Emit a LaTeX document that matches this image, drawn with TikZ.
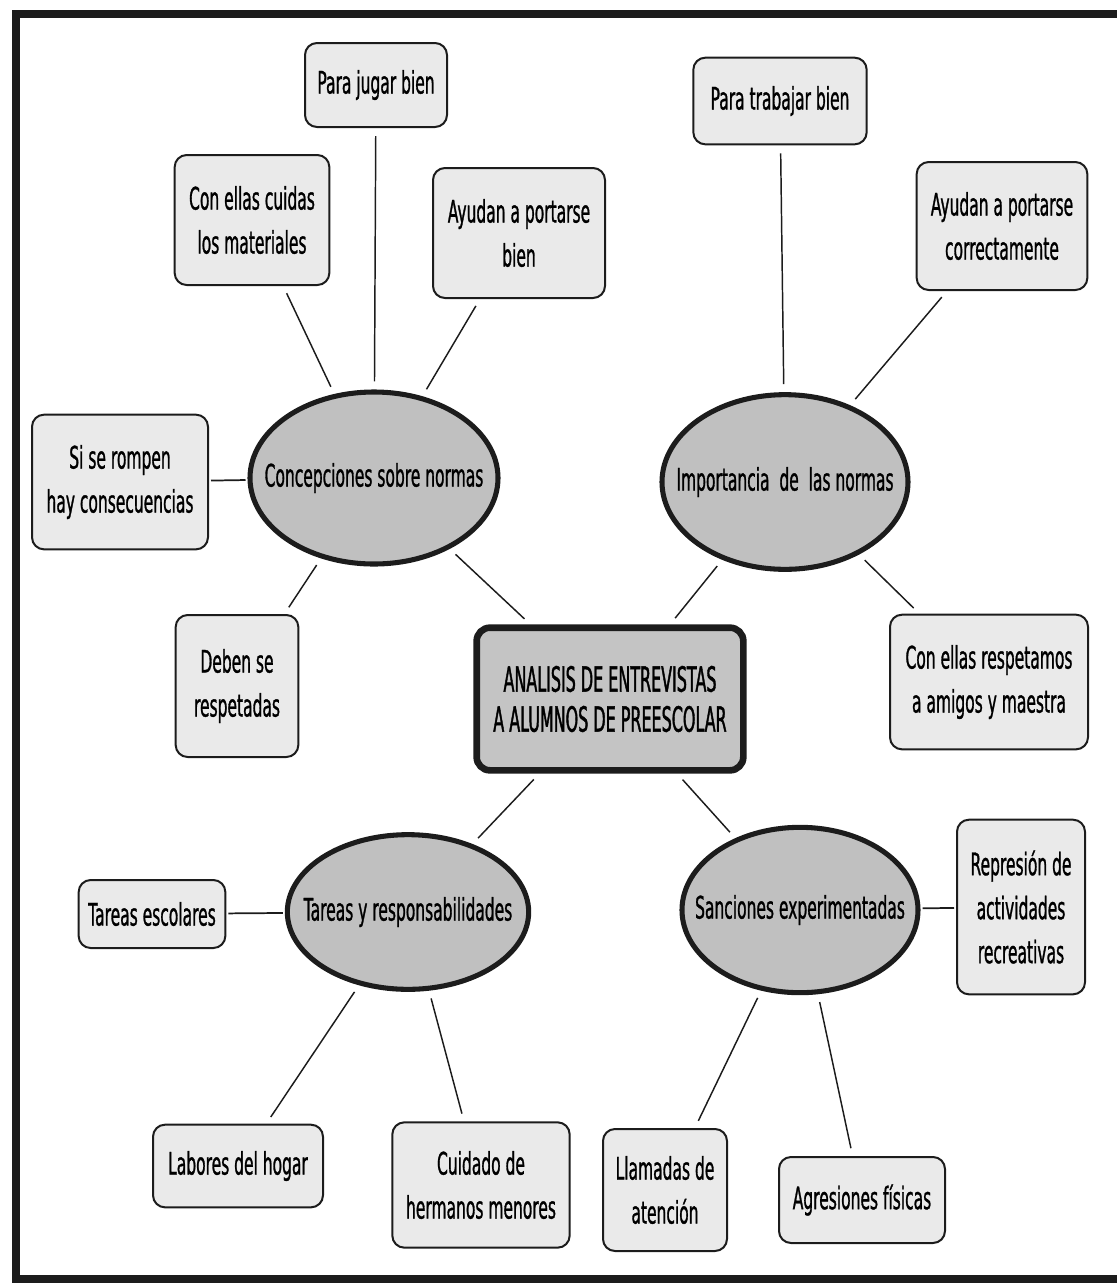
\documentclass[tikz,border=0pt]{standalone}
\usepackage{fontspec}
\setmainfont[FakeStretch=0.5, RawFeature={embolden=0.9}]{DejaVu Sans}
\newfontfamily\hubfont[FakeStretch=0.46, RawFeature={embolden=1.1}]{DejaVu Sans}
\usetikzlibrary{shapes.geometric}
\definecolor{mapink}{RGB}{28,28,28}
\definecolor{mapleaf}{RGB}{234,234,234}
\definecolor{mapoval}{RGB}{192,192,192}
\definecolor{maphub}{RGB}{196,196,196}
\tikzset{
  leaf/.style={draw=mapink, fill=mapleaf, rounded corners=9pt, line width=1.5pt,
    align=center, inner sep=0pt, font=\fontsize{23.25}{33}\selectfont},
  oval/.style={ellipse, draw=mapink, fill=mapoval, line width=3.8pt,
    inner sep=0pt, font=\fontsize{23.25}{33}\selectfont},
  hub/.style={draw=mapink, fill=maphub, rounded corners=10pt, line width=5pt,
    align=center, inner sep=0pt, font=\hubfont\fontsize{26}{30}\selectfont},
  link/.style={draw=mapink, line width=1.1pt, shorten <=6pt, shorten >=6pt},
  tie/.style={draw=mapink, line width=1.3pt, shorten <=1.5pt, shorten >=1.5pt}
}

\begin{document}
\begin{tikzpicture}[x=0.75pt, y=-0.75pt]
  \useasboundingbox (0,0) rectangle (1117,1283);
  \draw[mapink, line width=5.5pt] (1117,14) -- (16,14) -- (16,1279) -- (1117,1279);

  % centre and the four themes
  \node[hub, minimum width=200pt, minimum height=107pt] (hub) at (610,699) {ANALISIS DE ENTREVISTAS\\A ALUMNOS DE PREESCOLAR};
  \node[oval, minimum width=186pt, minimum height=129pt] (concep) at (374,478) {\makebox[0pt]{Concepciones sobre normas}};
  \node[oval, minimum width=184.5pt, minimum height=131pt] (import) at (785,482) {\makebox[0pt]{Importancia~ de~ las normas}};
  \node[oval, minimum width=181pt, minimum height=116pt] (tareas) at (408,912) {\makebox[0pt]{Tareas y responsabilidades}};
  \node[oval, minimum width=177pt, minimum height=124pt] (sancion) at (800,910) {\makebox[0pt]{Sanciones experimentadas}};

  % answers
  \node[leaf, minimum width=106.5pt, minimum height=63pt] (jugar) at (376,85) {Para jugar bien};
  \node[leaf, minimum width=116pt, minimum height=97.5pt] (cuidas) at (252,220) {Con ellas cuidas\\los materiales};
  \node[leaf, minimum width=129pt, minimum height=97.5pt] (portar) at (519,233) {Ayudan a portarse\\bien};
  \node[leaf, minimum width=132pt, minimum height=101pt] (rompen) at (120,482) {Si se rompen\\hay consecuencias};
  \node[leaf, minimum width=92pt, minimum height=106.5pt] (deben) at (237,686) {Deben se\\respetadas};

  \node[leaf, minimum width=130pt, minimum height=65pt] (trabajar) at (780,101) {Para trabajar bien};
  \node[leaf, minimum width=128pt, minimum height=96pt] (correcto) at (1002,226) {Ayudan a portarse\\correctamente};
  \node[leaf, minimum width=148.5pt, minimum height=101pt] (respeto) at (989,682) {Con ellas respetamos\\a amigos y maestra};

  \node[leaf, minimum width=110pt, minimum height=51pt] (escolar) at (152,914) {Tareas escolares};
  \node[leaf, minimum width=127.5pt, minimum height=62pt] (hogar) at (238,1166) {Labores del hogar};
  \node[leaf, minimum width=133pt, minimum height=94pt] (hermanos) at (481,1185) {Cuidado de\\hermanos menores};

  \node[leaf, minimum width=96pt, minimum height=131pt] (recreo) at (1021,907) {Represión de\\actividades\\recreativas};
  \node[leaf, minimum width=93pt, minimum height=91.5pt] (llamadas) at (665,1190) {Llamadas de\\atención};
  \node[leaf, minimum width=124.5pt, minimum height=64.5pt] (agresion) at (862,1200) {Agresiones físicas};

  \draw[link] (hub) -- (concep);
  \draw[link] (hub) -- (import);
  \draw[link] (hub) -- (tareas);
  \draw[link] (hub) -- (sancion);

  \draw[link] (jugar) -- (concep);
  \draw[link] (cuidas) -- (concep);
  \draw[link] (portar) -- (concep);
  \draw[tie] (rompen) -- (concep);
  \draw[link] (deben) -- (concep);

  \draw[link] (trabajar) -- (import);
  \draw[link] (correcto) -- (import);
  \draw[link] (respeto) -- (import);

  \draw[tie] (escolar) -- (tareas);
  \draw[link] (hogar) -- (tareas);
  \draw[link] (hermanos) -- (tareas);

  \draw[tie] (recreo) -- (sancion);
  \draw[link] (llamadas) -- (sancion);
  \draw[link] (agresion) -- (sancion);
\end{tikzpicture}
\end{document}
